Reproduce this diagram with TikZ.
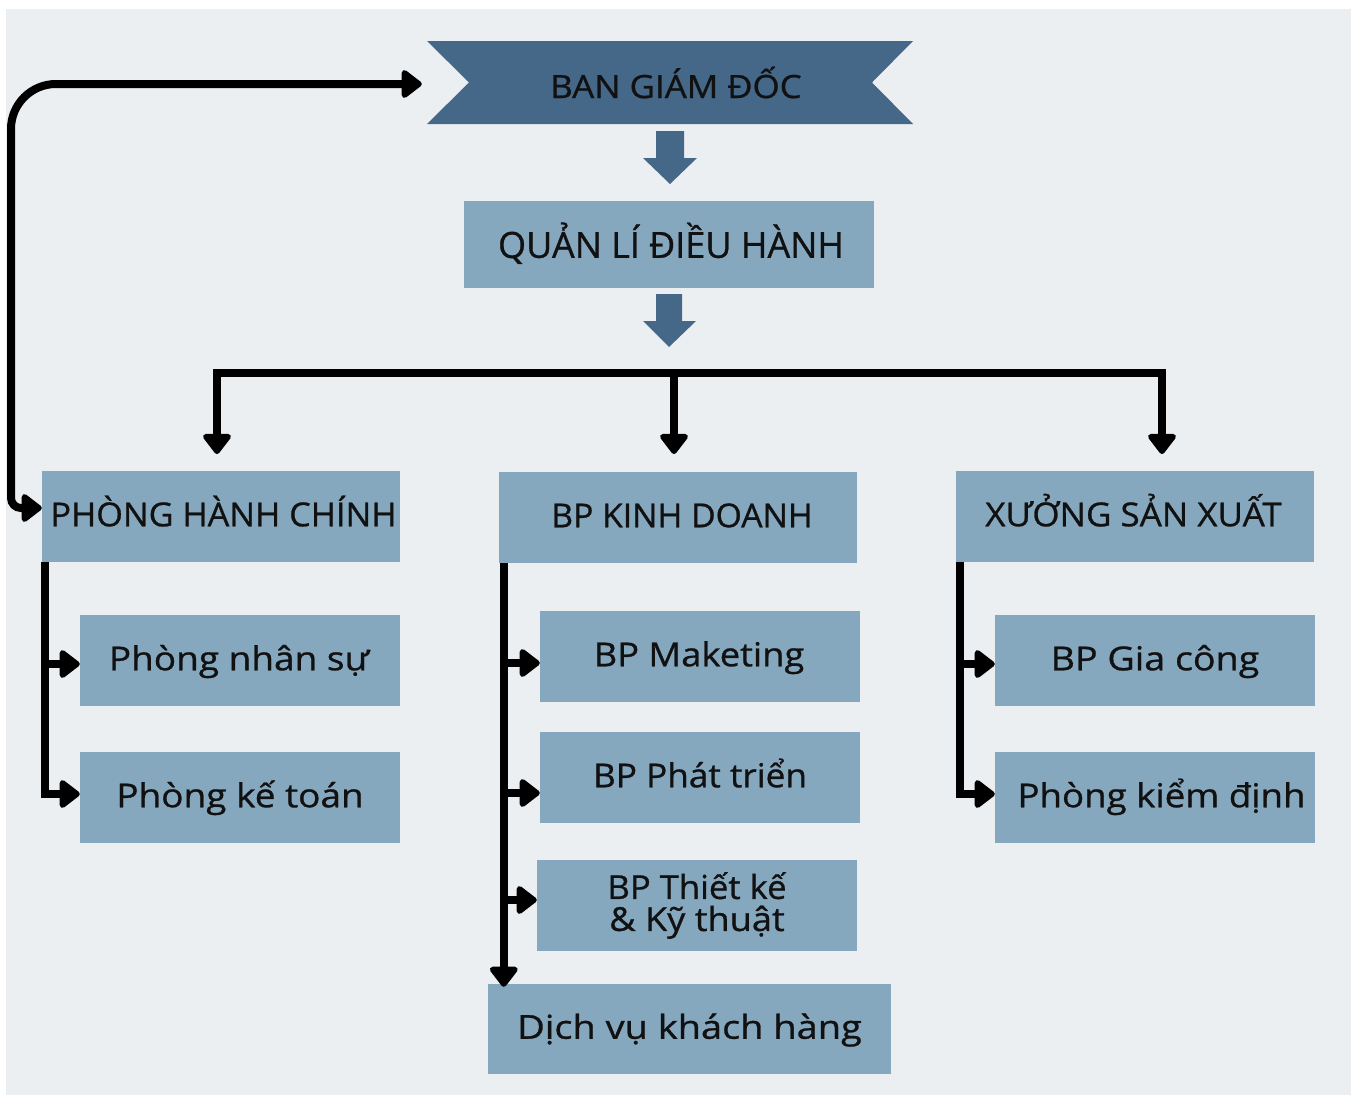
\documentclass[tikz,border=0pt]{standalone}
\usepackage{fontspec}
\usepackage{graphicx}
\setmainfont{Open Sans}[FakeBold=0.8]
\usetikzlibrary{arrows.meta,calc}
\definecolor{pagebg}{RGB}{235,239,242}
\definecolor{darkb}{RGB}{69,103,136}
\definecolor{lightb}{RGB}{134,168,191}
\definecolor{txt}{RGB}{17,17,17}
\newcommand\hsc[2]{\scalebox{#1}[1]{#2}}
\begin{document}
\begin{tikzpicture}[x=1pt,y=-1pt,
  box/.style={fill=lightb, text=txt, inner sep=0pt, minimum height=91pt, minimum width=320pt, align=center, font=\fontsize{33}{36}\selectfont},
  oneline/.style={text height=19.5pt, text depth=0pt},
  widebox/.style={box, oneline, minimum width=358pt},
  conn/.style={line width=8pt, draw=black, line join=miter},
  >={Triangle[width=32pt,length=22pt,round]}
]
\useasboundingbox (0,0) rectangle (1355,1095);
\fill[white] (0,0) rectangle (1355,1095);
\fill[pagebg] (6,9) rectangle (1351,1095);

% banner
\fill[darkb] (427,41) -- (913,41) -- (872,82.5) -- (913,124) -- (427,124) -- (469,82.5) -- cycle;
\node[text=txt, font=\fontsize{32}{36}\selectfont, minimum width=486pt, minimum height=83pt, inner sep=0pt, text height=31pt, text depth=0pt] (ban) at (670,82.5) {\hspace*{12pt}\hsc{1.09}{BAN GIÁM ĐỐC}};

% block arrows
\fill[darkb] (656,131) -- (684,131) -- (684,158) -- (697,158) -- (670,184) -- (643,158) -- (656,158) -- cycle;
\node[box, minimum width=410pt, minimum height=87pt, font=\fontsize{36}{40}\selectfont, text height=26.7pt, text depth=0pt] (qlh) at (669,244.5) {\hspace*{4pt}QUẢN LÍ ĐIỀU HÀNH};
\fill[darkb] (656,294) -- (682,294) -- (682,321) -- (696,321) -- (669,347) -- (643,321) -- (656,321) -- cycle;

% level 2
\node[widebox] (phc) at (221,516.5) {\hspace*{5pt}\hsc{1.036}{PHÒNG HÀNH CHÍNH}};
\node[widebox] (bkd) at (678,517.5) {\hspace*{8pt}\hsc{1.02}{BP KINH DOANH}};
\node[widebox] (xsx) at (1135,516.5) {\hsc{1.06}{XƯỞNG SẢN XUẤT}\hspace*{3pt}};

% level 3
\node[box, oneline] (pns) at (240,660.5) {\hsc{1.12}{Phòng nhân sự}\hspace*{2pt}};
\node[box, oneline] (pkt) at (240,797.5) {\hsc{1.12}{Phòng kế toán}};
\node[box, oneline] (bmk) at (700,656.5) {\hsc{1.10}{BP Maketing}\hspace*{2pt}};
\node[box, oneline] (bpt) at (700,777.5) {\hsc{1.066}{BP Phát triển}};
\node[box, font=\fontsize{33}{35}\selectfont] (btk) at (697,905.5) {\hsc{1.05}{BP Thiết kế}\\[-3pt]\hsc{1.095}{\& Kỹ thuật}};
\node[box, oneline, minimum width=403pt, minimum height=90pt] (dvk) at (689.5,1029) {\hsc{1.15}{Dịch vụ khách hàng}};
\node[box, oneline] (bgc) at (1155,660.5) {\hsc{1.14}{BP Gia công}};
\node[box, oneline] (pkd) at (1155,797.5) {\hspace*{13pt}\hsc{1.11}{Phòng kiểm định}};

% feedback connector
\draw[conn,<->] ($(ban.west)+(-5,1.5)$) [rounded corners=45pt] -- (11,84) [rounded corners=10pt] -- (11,508) -- ($(phc.west)+(0,-8.5)$);

% distribution
\coordinate (jl) at (217,373);
\coordinate (jm) at (674,373);
\coordinate (jr) at (1162,373);
\coordinate (tl) at (217,454);
\coordinate (tm) at (674,454);
\coordinate (tr) at (1162,454);
\draw[conn,<->] (tl) -- (jl) -- (jr) -- (tr);
\draw[conn,->] (jm) -- (tm);

% left column
\coordinate (lv) at ($(phc.south west)+(3.5,0)$);
\draw[conn,->] (lv) |- ($(pkt.west)+(0,-3.5)$);
\draw[conn,->] ($(lv |- pns.west)+(0,3.5)$) -- ($(pns.west)+(0,3.5)$);

% middle column
\coordinate (mv) at ($(bkd.south west)+(5,0)$);
\coordinate (mb) at ($(dvk.north west)+(16,3)$);
\draw[conn,->] (mv) -- (mb);
\draw[conn,->] ($(mv |- bmk.west)+(0,6.5)$) -- ($(bmk.west)+(0,6.5)$);
\draw[conn,->] ($(mv |- bpt.west)+(0,15.5)$) -- ($(bpt.west)+(0,15.5)$);
\draw[conn,->] ($(mv |- btk.west)+(0,-5.5)$) -- ($(btk.west)+(0,-5.5)$);

% right column
\coordinate (rv) at ($(xsx.south west)+(4,0)$);
\draw[conn,->] (rv) |- ($(pkd.west)+(0,-3.5)$);
\draw[conn,->] ($(rv |- bgc.west)+(0,3.5)$) -- ($(bgc.west)+(0,3.5)$);
\end{tikzpicture}
\end{document}
